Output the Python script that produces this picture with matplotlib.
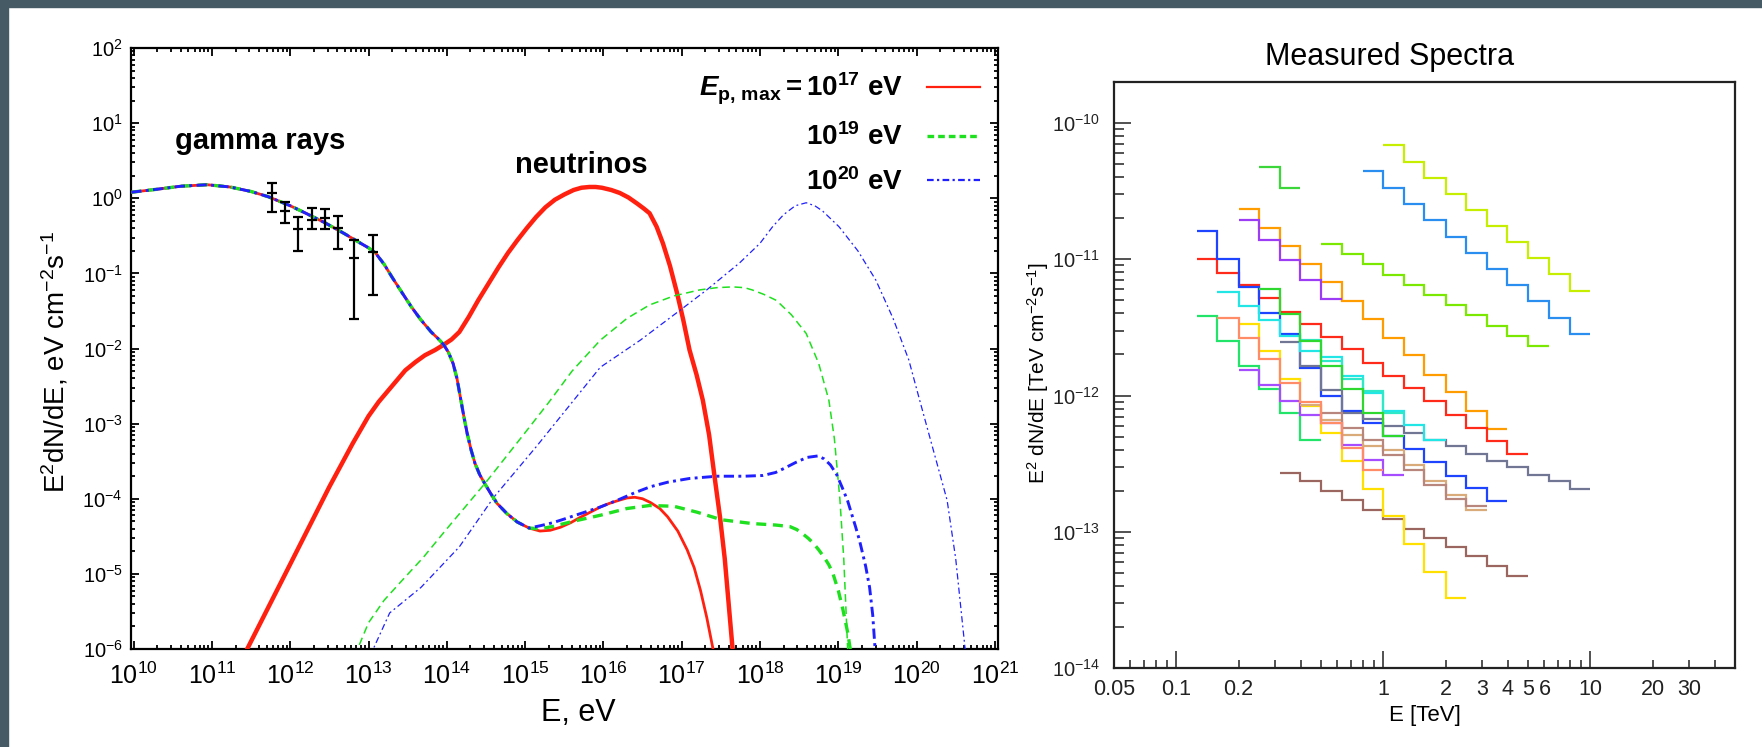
import numpy as np
import matplotlib
matplotlib.use("Agg")
import matplotlib.pyplot as plt
from matplotlib.ticker import FixedLocator, NullFormatter, FuncFormatter, LogFormatterMathtext
from matplotlib.lines import Line2D
from matplotlib.patches import Rectangle

plt.rcParams['font.family'] = ['Liberation Sans', 'DejaVu Sans']
plt.rcParams['mathtext.fontset'] = 'custom'
plt.rcParams['mathtext.rm'] = 'Liberation Sans'
plt.rcParams['mathtext.it'] = 'Liberation Sans:italic'
plt.rcParams['mathtext.bf'] = 'Liberation Sans:bold'
plt.rcParams['mathtext.bfit'] = 'Liberation Sans:bold:italic'

# ---------------- left panel data (log10 E [eV], log10 E^2dN/dE) ----------------
# gamma-ray part common to all three cut-offs
gam_common_logE = [9.97, 10.3, 10.6, 10.94, 11.23, 11.5, 11.72, 12.0, 12.2, 12.45, 12.69, 12.9, 13.0,
                   13.09, 13.2, 13.3, 13.43, 13.55, 13.67, 13.8, 13.9, 13.96, 14.02, 14.08, 14.13,
                   14.18, 14.22, 14.26, 14.31, 14.36, 14.42, 14.48, 14.56, 14.64, 14.77, 14.9, 15.05]
gam_common_logF = [0.08, 0.12, 0.16, 0.18, 0.15, 0.09, 0.02, -0.1, -0.2, -0.33, -0.47, -0.6, -0.66,
                   -0.73, -0.88, -1.05, -1.26, -1.45, -1.62, -1.78, -1.88, -1.95, -2.05, -2.2, -2.4,
                   -2.69, -2.92, -3.13, -3.35, -3.53, -3.68, -3.79, -3.93, -4.06, -4.2, -4.31, -4.39]

gam17_logE = [15.19, 15.32, 15.45, 15.58, 15.7, 15.83, 15.96, 16.08, 16.2, 16.3, 16.4, 16.5, 16.6,
              16.72, 16.82, 16.95, 17.07, 17.16, 17.24, 17.32, 17.4, 17.45]
gam17_logF = [-4.43, -4.42, -4.38, -4.32, -4.25, -4.18, -4.11, -4.06, -4.02, -3.99, -3.98, -4.0, -4.05,
              -4.13, -4.24, -4.43, -4.68, -4.92, -5.22, -5.58, -6.0, -6.3]

gam19_logE = [15.19, 15.35, 15.5, 15.7, 15.96, 16.3, 16.59, 16.9, 17.2, 17.51, 17.9, 18.2, 18.38, 18.47,
              18.55, 18.62, 18.68, 18.75, 18.82, 18.88, 18.93, 19.0, 19.06, 19.12, 19.16, 19.2]
gam19_logF = [-4.40, -4.37, -4.33, -4.28, -4.22, -4.13, -4.09, -4.1, -4.18, -4.28, -4.33, -4.35, -4.37, -4.41,
              -4.47, -4.53, -4.59, -4.68, -4.78, -4.88, -4.99, -5.22, -5.48, -5.78, -6.05, -6.3]

gam20_logE = [15.19, 15.35, 15.5, 15.7, 15.96, 16.2, 16.4, 16.6, 16.82, 17.1, 17.45, 17.8, 18.04, 18.2,
              18.3, 18.45, 18.6, 18.74, 18.82, 18.9, 18.98, 19.05, 19.12, 19.17, 19.22, 19.27, 19.35,
              19.4, 19.44, 19.47, 19.49]
gam20_logF = [-4.36, -4.32, -4.27, -4.2, -4.11, -4.01, -3.92, -3.84, -3.78, -3.73, -3.70, -3.70, -3.69,
              -3.65, -3.6, -3.52, -3.45, -3.43, -3.47, -3.55, -3.68, -3.85, -4.03, -4.2, -4.37, -4.55,
              -4.9, -5.18, -5.55, -6.0, -6.3]

nu17_logE = [11.42, 11.45, 12.0, 12.5, 12.8, 13.0, 13.13, 13.3, 13.47, 13.6, 13.72, 13.85, 13.96, 14.06,
             14.16, 14.28, 14.4, 14.53, 14.66, 14.78, 14.9, 15.02, 15.14, 15.26, 15.38, 15.5, 15.62,
             15.72, 15.82, 15.9, 15.98, 16.1, 16.21, 16.32, 16.43, 16.52, 16.59, 16.68, 16.76, 16.85,
             16.94, 17.02, 17.1, 17.19, 17.27, 17.35, 17.42, 17.49, 17.55, 17.6, 17.65, 17.67]
nu17_logF = [-6.1, -6.0, -4.87, -3.84, -3.26, -2.9, -2.71, -2.5, -2.29, -2.18, -2.09, -2.02, -1.95, -1.88,
             -1.78, -1.58, -1.36, -1.14, -0.92, -0.73, -0.56, -0.4, -0.25, -0.12, -0.02, 0.05, 0.11,
             0.14, 0.15, 0.15, 0.14, 0.11, 0.07, 0.01, -0.07, -0.14, -0.2, -0.38, -0.6, -0.9,
             -1.26, -1.62, -2.02, -2.35, -2.69, -3.15, -3.71, -4.25, -4.8, -5.4, -6.0, -6.3]

nu19_logE = [12.84, 12.86, 13.0, 13.2, 13.4, 13.7, 14.0, 14.5, 15.0, 15.3, 15.6, 15.96, 16.3, 16.59,
             16.9, 17.23, 17.45, 17.65, 17.8, 17.9, 18.05, 18.21, 18.4, 18.59, 18.75, 18.88, 18.95,
             19.02, 19.07, 19.12, 19.13]
nu19_logF = [-6.1, -6.0, -5.65, -5.35, -5.12, -4.78, -4.4, -3.78, -3.12, -2.72, -2.3, -1.89, -1.6, -1.42,
             -1.3, -1.22, -1.19, -1.18, -1.19, -1.22, -1.28, -1.36, -1.55, -1.80, -2.2, -2.69, -3.2,
             -4.0, -4.8, -6.0, -6.3]

nu20_logE = [13.04, 13.06, 13.27, 13.67, 14.16, 14.6, 15.14, 15.62, 15.96, 16.47, 16.98, 17.32, 17.74,
             18.0, 18.16, 18.3, 18.45, 18.59, 18.7, 18.8, 19.01, 19.25, 19.48, 19.7, 19.9, 20.04, 20.2,
             20.39, 20.5, 20.62, 20.64]
nu20_logF = [-6.1, -6.0, -5.52, -5.18, -4.64, -3.98, -3.31, -2.69, -2.25, -1.89, -1.49, -1.22, -0.86,
             -0.6, -0.38, -0.22, -0.1, -0.06, -0.1, -0.17, -0.38, -0.7, -1.09, -1.6, -2.15, -2.69, -3.3,
             -4.02, -4.8, -6.0, -6.3]

# measured points with error bars
pts_E = [5.9e11, 8.5e11, 1.26e12, 1.9e12, 2.75e12, 4.1e12, 6.6e12, 1.15e13]
pts_F = [1.17, 0.68, 0.39, 0.51, 0.54, 0.40, 0.16, 0.19]
pts_hi = [1.58, 0.89, 0.56, 0.74, 0.71, 0.58, 0.28, 0.32]
pts_lo = [0.66, 0.47, 0.20, 0.39, 0.39, 0.21, 0.025, 0.051]

left_xticks = [1e10, 1e11, 1e12, 1e13, 1e14, 1e15, 1e16, 1e17, 1e18, 1e19, 1e20, 1e21]
left_yticks = [1e-6, 1e-5, 1e-4, 1e-3, 1e-2, 1e-1, 1e0, 1e1, 1e2]

# ---------------- right panel data ----------------
EDGES = [0.126, 0.158, 0.2, 0.251, 0.316, 0.398, 0.501, 0.631, 0.794, 1.0,
         1.26, 1.58, 2.0, 2.51, 3.16, 3.98, 5.01, 6.31, 7.94, 10.0]

# (first edge index, colour, log10 flux per bin)
spectra = [
    (9, '#c6ee00', [-10.16, -10.285, -10.40, -10.52, -10.64, -10.755, -10.87, -10.99, -11.11, -11.23]),
    (8, '#2a8df0', [-10.355, -10.478, -10.596, -10.713, -10.836, -10.951, -11.074, -11.19, -11.31, -11.43, -11.55]),
    (3, '#3ad63a', [-10.326, -10.48]),
    (6, '#7ae800', [-10.885, -10.958, -11.037, -11.113, -11.186, -11.262, -11.338, -11.412, -11.49, -11.564, -11.638]),
    (2, '#ff9d00', [-10.632, -10.77, -10.902, -11.037, -11.167, -11.307, -11.436, -11.576, -11.706,
                    -11.846, -11.976, -12.115, -12.245]),
    (2, '#9d3cf5', [-10.711, -10.858, -11.007, -11.154, -11.294]),
    (0, '#ff2a1a', [-10.995, -11.098, -11.191, -11.287, -11.385, -11.473, -11.571, -11.662, -11.76,
                    -11.858, -11.943, -12.042, -12.14, -12.238, -12.336, -12.426]),
    (0, '#1e44ff', [-10.792, -10.995, -11.2, -11.397, -11.55, -11.8, -12.005, -12.115, -12.2, -12.299,
                    -12.392, -12.49, -12.588, -12.679, -12.772]),
    (4, '#9b6660', [-12.568, -12.63, -12.704, -12.77, -12.838, -12.907, -12.98, -13.046, -13.115,
                    -13.181, -13.255, -13.324]),
    (2, '#ffe000', [-11.478, -11.674, -11.877, -12.078, -12.274, -12.483, -12.686, -12.882, -13.088,
                    -13.292, -13.488]),
    (4, '#707694', [-11.61, -11.78, -11.96, -12.127, -12.176, -12.225, -12.274, -12.324, -12.373,
                    -12.426, -12.478, -12.527, -12.581, -12.625, -12.684]),
    (1, '#22e5e5', [-11.24, -11.343, -11.446, -11.56, -11.674, -11.72, -11.858, -11.98, -12.115, -12.22, -12.324]),
    (0, '#22e468', [-11.42, -11.6, -11.78, -11.95, -12.127, -12.324]),
    (2, '#a64dff', [-11.81, -11.92, -12.04, -12.14, -12.2, -12.36, -12.47, -12.58]),
    (5, '#d9aa7a', [-12.07, -12.18, -12.29, -12.37, -12.40, -12.51, -12.63, -12.73, -12.84]),
    (6, '#b8867c', [-12.13, -12.24, -12.33, -12.44, -12.55, -12.66, -12.76, -12.81]),
    (5, '#2ee8c8', [-11.59, -11.75, -11.88, -11.97, -12.127]),
    (1, '#ff8c66', [-11.43, -11.576, -11.735, -11.907, -12.05, -12.2, -12.385, -12.55]),
    (3, '#2ed82e', [-11.216, -11.40, -11.6, -11.78, -11.95, -12.13, -12.3]),
]

right_yticks = [1e-14, 1e-13, 1e-12, 1e-11, 1e-10]
right_yminor = [m * 10.0 ** e for e in range(-14, -9) for m in range(2, 10) if m * 10.0 ** e <= 2e-10]
x_major = [0.1, 1, 10]
x_minor = [0.05, 0.06, 0.07, 0.08, 0.09, 0.2, 0.3, 0.4, 0.5, 0.6, 0.7, 0.8, 0.9,
           2, 3, 4, 5, 6, 7, 8, 9, 20, 30, 40]
x_minor_labels = {0.05: '0.05', 0.2: '0.2', 2: '2', 3: '3', 4: '4', 5: '5', 6: '6', 20: '20', 30: '30'}

RED, GREEN, BLUE = '#ff2010', '#1ee01e', '#2020ff'
W, H = 1762, 747


def px_box(x0, y0, x1, y1):
    return [x0 / W, 1 - y1 / H, (x1 - x0) / W, (y1 - y0) / H]


def fx(x):
    return x / W


def fy(y):
    return 1 - y / H


def decade_minors(lo, hi):
    return [m * 10.0 ** e for e in range(lo, hi) for m in range(2, 10)]


fig = plt.figure(figsize=(W / 100, H / 100), dpi=100)
fig.patch.set_facecolor('white')
fig.patches.append(Rectangle((0, fy(7)), 1, 7 / H, transform=fig.transFigure, color='#455a64', zorder=-1))
fig.patches.append(Rectangle((0, 0), 8 / W, 1, transform=fig.transFigure, color='#455a64', zorder=-1))

# ================= left panel =================
ax = fig.add_axes(px_box(131, 48, 998, 649))
to10 = lambda a: 10 ** np.asarray(a)

g_E = to10(gam_common_logE)
g_F = to10(gam_common_logF)
ax.plot(np.concatenate([g_E, to10(gam17_logE)]), np.concatenate([g_F, to10(gam17_logF)]),
        color=RED, lw=2.0, zorder=3)
ax.plot(np.concatenate([g_E, to10(gam19_logE)]), np.concatenate([g_F, to10(gam19_logF)]),
        color=GREEN, lw=2.4, ls=(0, (3, 2)), zorder=4)
ax.plot(np.concatenate([g_E, to10(gam20_logE)]), np.concatenate([g_F, to10(gam20_logF)]),
        color=BLUE, lw=2.1, ls=(0, (3.5, 1.5, 1, 1.5)), zorder=5)

ax.plot(to10(nu17_logE), to10(nu17_logF), color=RED, lw=3.2, zorder=3)
ax.plot(to10(nu19_logE), to10(nu19_logF), color=GREEN, lw=1.1, ls=(0, (5, 3)), zorder=3)
ax.plot(to10(nu20_logE), to10(nu20_logF), color=BLUE, lw=0.9, ls=(0, (5, 2.5, 1.5, 2.5)), zorder=3)

pts_F_arr = np.array(pts_F)
ax.errorbar(pts_E, pts_F, yerr=[pts_F_arr - np.array(pts_lo), np.array(pts_hi) - pts_F_arr],
            fmt='_', color='black', ms=7, mew=1.6, elinewidth=1.6, capsize=3.6, capthick=1.6, zorder=6)

ax.set_xscale('log')
ax.set_yscale('log')
ax.set_xlim(10 ** 9.966, 10 ** 21.04)
ax.set_ylim(1e-6, 1e2)
ax.xaxis.set_major_locator(FixedLocator(left_xticks))
ax.xaxis.set_minor_locator(FixedLocator(decade_minors(10, 21)))
ax.yaxis.set_major_locator(FixedLocator(left_yticks))
ax.yaxis.set_minor_locator(FixedLocator(decade_minors(-6, 2)))
ax.xaxis.set_major_formatter(LogFormatterMathtext())
ax.yaxis.set_major_formatter(LogFormatterMathtext())
ax.xaxis.set_minor_formatter(NullFormatter())
ax.yaxis.set_minor_formatter(NullFormatter())
ax.tick_params(which='both', direction='in', top=True, right=True, width=1.3, colors='black')
ax.tick_params(which='major', length=6)
ax.tick_params(which='minor', length=3)
ax.tick_params(axis='x', which='major', labelsize=18, pad=10)
ax.tick_params(axis='y', which='major', labelsize=14.5, pad=6)
for s in ax.spines.values():
    s.set_linewidth(1.6)

handles = [Line2D([], [], color=RED, lw=1.6),
           Line2D([], [], color=GREEN, lw=2.4, ls=(0, (2, 1.2))),
           Line2D([], [], color=BLUE, lw=1.6, ls=(0, (3, 1.5, 1, 1.5)))]
labels = [r'$\mathbfit{E}_{\mathbf{p,\,max}}\mathbf{=10^{17}\ eV}$',
          r'$\mathbf{10^{19}\ eV}$',
          r'$\mathbf{10^{20}\ eV}$']
ax.legend(handles, labels, loc='upper right', bbox_to_anchor=(0.979, 0.962), frameon=False,
          markerfirst=False, fontsize=20, handlelength=1.9, handletextpad=0.85,
          labelspacing=0.6, borderpad=0, borderaxespad=0)

fig.text(fx(260), fy(149), 'gamma rays', fontsize=21, fontweight='bold', ha='center', va='baseline')
fig.text(fx(581), fy(173), 'neutrinos', fontsize=21, fontweight='bold', ha='center', va='baseline')
fig.text(fx(578), fy(713), 'E, eV', fontsize=22, ha='center', va='center')
fig.text(fx(55), fy(362), r'E$^{2}$dN/dE, eV cm$^{-2}$s$^{-1}$', fontsize=20, rotation=90,
         ha='center', va='center')

# ================= right panel =================
ax2 = fig.add_axes(px_box(1114, 82, 1735, 668))
for start, col, vals in spectra:
    edges = EDGES[start:start + len(vals) + 1]
    ax2.stairs(to10(vals), edges, baseline=None, color=col, lw=1.6)

ax2.set_xscale('log')
ax2.set_yscale('log')
ax2.set_xlim(0.05, 50)
ax2.set_ylim(1e-14, 2e-10)
ax2.xaxis.set_major_locator(FixedLocator(x_major))
ax2.xaxis.set_major_formatter(FuncFormatter(lambda v, p: f'{v:g}'))
ax2.xaxis.set_minor_locator(FixedLocator(x_minor))
ax2.xaxis.set_minor_formatter(FuncFormatter(lambda v, p: x_minor_labels.get(round(v, 3), '')))
ax2.yaxis.set_major_locator(FixedLocator(right_yticks))
ax2.yaxis.set_major_formatter(LogFormatterMathtext())
ax2.yaxis.set_minor_locator(FixedLocator(right_yminor))
ax2.yaxis.set_minor_formatter(NullFormatter())
ax2.tick_params(which='both', direction='in', top=False, right=False, width=1.1, colors='#222222')
ax2.tick_params(which='major', length=12)
ax2.tick_params(axis='x', which='minor', length=6)
ax2.tick_params(axis='y', which='minor', length=7)
ax2.tick_params(axis='x', which='both', labelsize=15.5, pad=8)
ax2.tick_params(axis='y', which='major', labelsize=14.5, pad=10)
for s in ax2.spines.values():
    s.set_linewidth(1.6)
    s.set_color('#222222')

fig.text(fx(1390), fy(57), 'Measured Spectra', fontsize=22, ha='center', va='center')
fig.text(fx(1425), fy(715), 'E [TeV]', fontsize=16, ha='center', va='center')
fig.text(fx(1038), fy(373), r'E$^{2}$ dN/dE [TeV cm$^{-2}$s$^{-1}$]', fontsize=15, rotation=90,
         ha='center', va='center')

fig.savefig('out.png', dpi=100)
